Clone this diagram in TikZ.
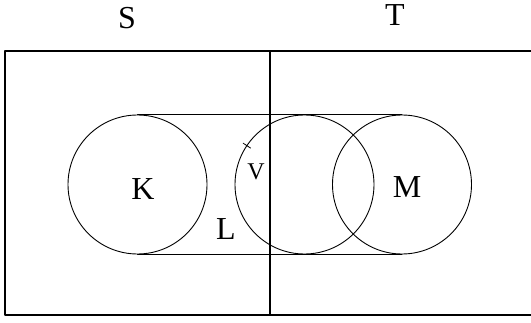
\documentclass[tikz,border=0pt]{standalone}
\usepackage{fontspec}
\setmainfont{Liberation Serif}
\begin{document}
\begin{tikzpicture}[
	x=1pt, y=1pt,
	line join=round,
	line cap=round,
	khung/.style={line width=1.4pt},
	vong/.style={draw, circle, line width=0.9pt, minimum size=139pt, inner sep=0pt, outer sep=0pt},
	chu/.style={font=\fontsize{32}{36}\selectfont, inner sep=0pt},
	chunho/.style={font=\fontsize{24}{28}\selectfont, inner sep=0pt}
	]
	\useasboundingbox (0,0) rectangle (531,322);
	% khung
	\draw[khung] (531,271) -- (5,271) -- (5,7) -- (531,7);
	\coordinate (giuaTren) at (270,271);
	\coordinate (giuaDuoi) at (270,7);
	\draw[khung] (giuaTren) -- (giuaDuoi);
	\node[chu] (S) at (127,304) {S};
	\node[chu] (T) at (395,307) {T};
	% ba vong tron
	\node[vong] (vK) at (137.5,137.5) {};
	\node[vong] (vV) at (304.5,137.5) {};
	\node[vong] (vM) at (402,137.5) {};
	\draw[line width=1pt] (vK.north) -- (vM.north);
	\draw[line width=1pt] (vK.south) -- (vM.south);
	\draw[line width=0.8pt] ([shift={(146.6:-4.5)}]vV.146.6) -- ([shift={(146.6:4.5)}]vV.146.6);
	% nhan
	\node[chu] (K) at (143,133) {K};
	\node[chu] (M) at (407,135) {M};
	\node[chunho] (V) at (256,150) {V};
	\node[chu] (L) at (226,93) {L};
\end{tikzpicture}
\end{document}
